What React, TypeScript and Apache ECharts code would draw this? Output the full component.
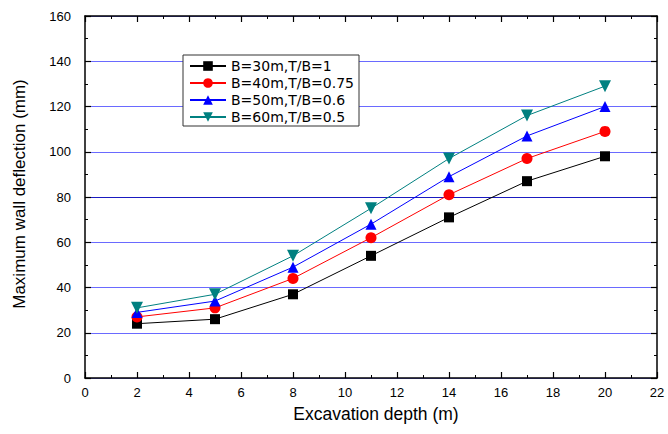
import React, { useEffect, useRef } from "react";
import * as echarts from "echarts";

const depths = [2, 5, 8, 11, 14, 17, 20];
const seriesNames = ["B=30m,T/B=1", "B=40m,T/B=0.75", "B=50m,T/B=0.6", "B=60m,T/B=0.5"];
const b30 = [24, 26, 37, 54, 71, 87, 98];
const b40 = [27, 31, 44, 62, 81, 97, 109];
const b50 = [29, 34, 49, 68, 89, 107, 120];
const b60 = [31, 37, 54, 75, 97, 116, 129];
const xTicks = [0, 2, 4, 6, 8, 10, 12, 14, 16, 18, 20, 22];
const yTicks = [0, 20, 40, 60, 80, 100, 120, 140, 160];

const colors = ["#000000", "#ff0000", "#0000ff", "#008080"];
const symbols = ["rect", "circle", "triangle", "path://M0,0 L10,0 L5,9 Z"];
const sizes = [10, 11, 11, 12];

export default function App() {
  const ref = useRef<HTMLDivElement>(null);
  useEffect(() => {
    if (!ref.current) return;
    const chart = echarts.init(ref.current, null, { renderer: "svg" });
    const all = [b30, b40, b50, b60];
    const font = "Liberation Sans, Arial, sans-serif";
    const axisCommon = {
      axisLine: { show: true, onZero: false, lineStyle: { color: "#000", width: 1.5 } },
      axisTick: { show: true, inside: true, length: 6, lineStyle: { color: "#000", width: 1.2 } },
      minorTick: { show: true, splitNumber: 2, length: 3, lineStyle: { color: "#000" } },
    };
    chart.setOption({
      animation: false,
      backgroundColor: "#fff",
      textStyle: { fontFamily: font },
      grid: { left: 85, right: 11, top: 16, bottom: 56, containLabel: false },
      legend: {
        orient: "vertical",
        left: 183,
        top: 55,
        padding: [4, 5, 2, 6],
        itemGap: 3,
        itemWidth: 36,
        itemHeight: 12,
        borderColor: "#333",
        borderWidth: 1,
        backgroundColor: "#fff",
        textStyle: { fontSize: 14, lineHeight: 14, color: "#000", fontFamily: "DejaVu Sans, sans-serif" },
        data: seriesNames,
      },
      xAxis: [
        {
          type: "value",
          min: 0,
          max: 22,
          interval: 2,
          ...axisCommon,
          splitLine: { show: false },
          axisLabel: {
            color: "#000",
            fontSize: 13,
            margin: 8,
            formatter: (v: number) => (xTicks.includes(v) ? String(v) : ""),
          },
          name: "Excavation depth (m)",
          nameLocation: "middle",
          nameGap: 27,
          nameTextStyle: { fontSize: 17.5, color: "#000", padding: [0, 0, 0, 10] },
        },
        {
          type: "value",
          position: "top",
          min: 0,
          max: 22,
          interval: 2,
          ...axisCommon,
          axisLabel: { show: false },
          splitLine: { show: false },
        },
      ],
      yAxis: [
        {
          type: "value",
          min: 0,
          max: 160,
          interval: 20,
          ...axisCommon,
          axisLabel: {
            color: "#000",
            fontSize: 13,
            margin: 14,
            formatter: (v: number) => (yTicks.includes(v) ? String(v) : ""),
          },
          splitLine: {
            show: true,
            lineStyle: {
              color: ["#7070ff", "#6a6aff", "#6a6aff", "#6a6aff", "#1a1ac0", "#6a6aff", "#6a6aff", "#6a6aff", "#6a6aff"],
              width: 1.2,
            },
          },
          name: "Maximum wall deflection (mm)",
          nameLocation: "middle",
          nameGap: 57,
          nameTextStyle: { fontSize: 17, color: "#000", padding: [0, 0, 0, 6] },
        },
        {
          type: "value",
          position: "right",
          min: 0,
          max: 160,
          interval: 20,
          ...axisCommon,
          axisLabel: { show: false },
          splitLine: { show: false },
        },
      ],
      series: seriesNames.map((name, i) => ({
        name,
        type: "line",
        xAxisIndex: 0,
        yAxisIndex: 0,
        data: depths.map((d, j) => [d, all[i][j]]),
        symbol: symbols[i],
        symbolSize: sizes[i],
        showAllSymbol: true,
        lineStyle: { color: colors[i], width: 1 },
        itemStyle: { color: colors[i] },
        emphasis: { disabled: true },
        z: 3 + i,
      })),
    });
    return () => chart.dispose();
  }, []);
  return <div ref={ref} style={{ width: 668, height: 434, position: "absolute", left: 0, top: 0 }} />;
}
